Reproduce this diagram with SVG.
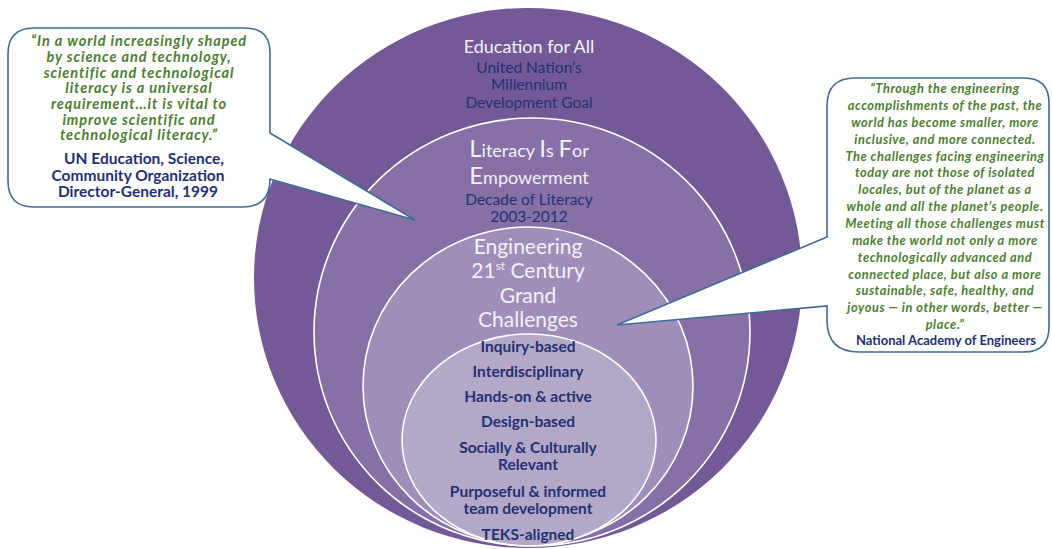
<svg xmlns="http://www.w3.org/2000/svg" width="1052" height="549" viewBox="0 0 1052 549">
<style>
.ring{stroke:#ffffff;stroke-width:1.6}
.callout{fill:#ffffff;stroke:#416b96;stroke-width:1.6}
.q{font-family:Lato,"Open Sans",sans-serif;font-weight:bold;font-style:italic;fill:#4e7d32;text-anchor:middle}
.ql{font-size:14.5px;letter-spacing:0.9px}
.qr{font-size:12.8px;letter-spacing:0.55px}
.src{font-family:Lato,"Open Sans",sans-serif;font-weight:bold;fill:#243072;text-anchor:middle}
.wt{font-family:Lato,"Open Sans",sans-serif;fill:#f3f1f8;text-anchor:middle}
.nv{font-family:Lato,"Open Sans",sans-serif;fill:#243072;text-anchor:middle}
.nb{font-family:Lato,"Open Sans",sans-serif;font-weight:bold;fill:#243072;text-anchor:middle;font-size:15.5px}
</style>
<rect width="1052" height="549" fill="#ffffff"/>
<g id="ring-education">
<ellipse cx="528" cy="278" rx="274" ry="270" fill="#735a96"/>
<text class="wt" x="529" y="53" font-size="18">Education for All</text>
<text class="nv" x="529" y="73" font-size="15.5">United Nation’s</text>
<text class="nv" x="529" y="90" font-size="15.5">Millennium</text>
<text class="nv" x="529" y="108" font-size="15.5">Development Goal</text>
</g>
<g id="ring-literacy">
<ellipse class="ring" cx="532" cy="332" rx="218" ry="214" fill="#8670a5"/>
<text class="wt" x="529" y="157" font-size="18"><tspan font-size="24">L</tspan>iteracy <tspan font-size="24">I</tspan>s <tspan font-size="24">F</tspan>or</text>
<text class="wt" x="529" y="184" font-size="18"><tspan font-size="24">E</tspan>mpowerment</text>
<text class="nv" x="529" y="205" font-size="15.5">Decade of Literacy</text>
<text class="nv" x="529" y="222" font-size="15.5">2003-2012</text>
</g>
<g id="ring-engineering">
<ellipse class="ring" cx="528" cy="386" rx="165" ry="159" fill="#9f8eb9"/>
<text class="wt" x="528" y="254" font-size="21">Engineering</text>
<text class="wt" x="528" y="278" font-size="21">21<tspan font-size="12" dy="-8">st</tspan><tspan dy="8"> Century</tspan></text>
<text class="wt" x="528" y="303" font-size="21">Grand</text>
<text class="wt" x="528" y="327" font-size="21">Challenges</text>
</g>
<g id="ring-practices">
<ellipse class="ring" cx="529" cy="440" rx="127" ry="106" fill="#b4a8c9"/>
<text class="nb" x="528" y="352">Inquiry-based</text>
<text class="nb" x="528" y="377">Interdisciplinary</text>
<text class="nb" x="528" y="402">Hands-on &amp; active</text>
<text class="nb" x="528" y="427">Design-based</text>
<text class="nb" x="528" y="453">Socially &amp; Culturally</text>
<text class="nb" x="528" y="470">Relevant</text>
<text class="nb" x="528" y="497">Purposeful &amp; informed</text>
<text class="nb" x="528" y="514">team development</text>
<text class="nb" x="528" y="540">TEKS-aligned</text>
</g>
<g id="connectors">
<path class="callout" d="M 34,28 H 245 Q 270,28 270,53 V 133 L 415,220 L 270,179 Q 270,207 242,207 H 34 Q 8,207 8,181 V 54 Q 8,28 34,28 Z"/>
<path class="callout" d="M 855,78 H 1024 Q 1049,78 1049,103 V 327 Q 1049,352 1024,352 H 859 Q 827,352 827,320 V 306 L 617,325 L 827,237 V 106 Q 827,78 855,78 Z"/>
</g>
<g id="quote-unesco">
<text class="q ql" x="139" y="46">“In a world increasingly shaped</text>
<text class="q ql" x="139" y="62">by science and technology,</text>
<text class="q ql" x="139" y="78">scientific and technological</text>
<text class="q ql" x="139" y="93">literacy is a universal</text>
<text class="q ql" x="139" y="109">requirement…it is vital to</text>
<text class="q ql" x="139" y="125">improve scientific and</text>
<text class="q ql" x="139" y="140">technological literacy.”</text>
<text class="src" x="144" y="164" font-size="15.5">UN Education, Science,</text>
<text class="src" x="138" y="180.5" font-size="15.5">Community Organization</text>
<text class="src" x="138" y="197" font-size="15.5">Director-General, 1999</text>
</g>
<g id="quote-nae">
<text class="q qr" x="945" y="93">“Through the engineering</text>
<text class="q qr" x="945" y="110">accomplishments of the past, the</text>
<text class="q qr" x="945" y="127">world has become smaller, more</text>
<text class="q qr" x="945" y="144">inclusive, and more connected.</text>
<text class="q qr" x="945" y="161">The challenges facing engineering</text>
<text class="q qr" x="945" y="177">today are not those of isolated</text>
<text class="q qr" x="945" y="194">locales, but of the planet as a</text>
<text class="q qr" x="945" y="211">whole and all the planet’s people.</text>
<text class="q qr" x="945" y="228">Meeting all those challenges must</text>
<text class="q qr" x="945" y="245">make the world not only a more</text>
<text class="q qr" x="945" y="262">technologically advanced and</text>
<text class="q qr" x="945" y="279">connected place, but also a more</text>
<text class="q qr" x="945" y="295">sustainable, safe, healthy, and</text>
<text class="q qr" x="945" y="312">joyous — in other words, better —</text>
<text class="q qr" x="945" y="329">place.”</text>
<text class="src" x="946" y="345" font-size="13">National Academy of Engineers</text>
</g>
</svg>
